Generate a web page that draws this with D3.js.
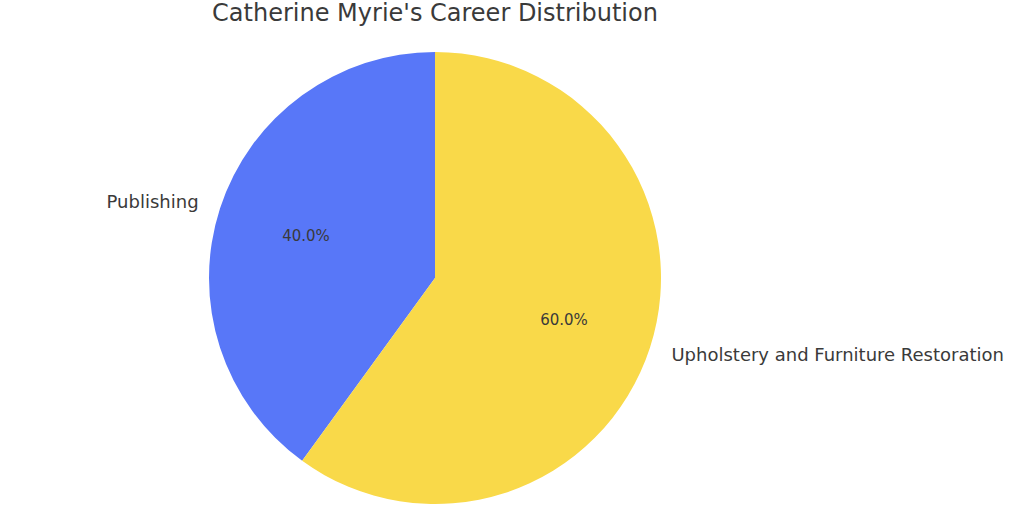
<!DOCTYPE html>
<html><head><meta charset="utf-8">
<script src="https://cdn.jsdelivr.net/npm/d3@7/dist/d3.min.js"></script>
<style>body{margin:0;background:#fff}svg{display:block}text{font-family:"DejaVu Sans",sans-serif;fill:#3a3a3a}</style>
</head><body><svg id="c" width="1024" height="521"></svg>
<script>
const categories = ["Publishing", "Upholstery and Furniture Restoration"];
const values = [40, 60];
const colors = ["#5877f8", "#f9d949"];
const title = "Catherine Myrie's Career Distribution";

const svg = d3.select("#c");
const cx = 435, cy = 278, r = 226;
const g = svg.append("g").attr("transform", `translate(${cx},${cy})`);
const total = d3.sum(values);
const pie = d3.pie().sort(null).startAngle(0).endAngle(-2*Math.PI).value(d=>d);
const arcs = pie(values);
const arc = d3.arc().innerRadius(0).outerRadius(r);
g.selectAll("path").data(arcs).join("path").attr("d", arc).attr("fill",(d,i)=>colors[i]);
arcs.forEach((d,i)=>{
  const mid = (d.startAngle + d.endAngle)/2;
  const sx = Math.sin(mid), sy = -Math.cos(mid);
  g.append("text").attr("x", sx*r*1.1).attr("y", sy*r*1.1)
    .attr("text-anchor", sx<0?"end":"start").attr("dominant-baseline","central")
    .style("font-size","18px").text(categories[i]);
  g.append("text").attr("x", sx*r*0.6).attr("y", sy*r*0.6)
    .attr("text-anchor","middle").attr("dominant-baseline","central")
    .style("font-size","15px").text((values[i]/total*100).toFixed(1)+"%");
});
svg.append("text").attr("x", cx).attr("y", 13).attr("text-anchor","middle").attr("dominant-baseline","central")
  .style("font-size","24px").text(title);
</script></body></html>
